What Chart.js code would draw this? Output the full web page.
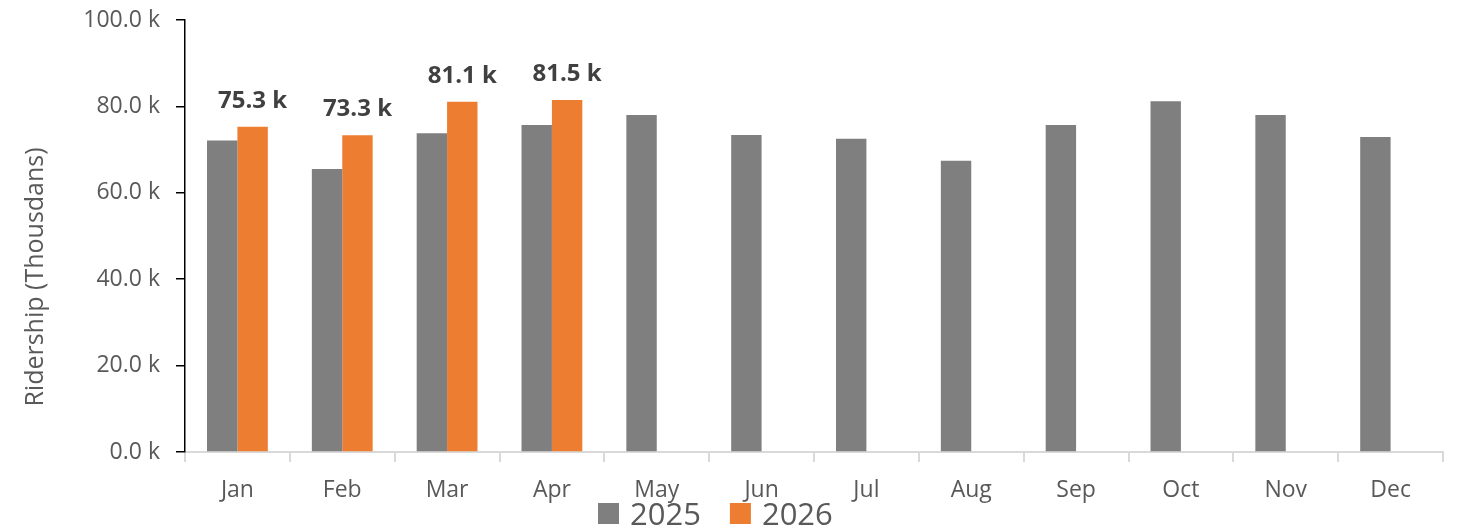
<!DOCTYPE html>
<html>
<head>
<meta charset="utf-8">
<script src="https://cdn.jsdelivr.net/npm/chart.js@4.4.1/dist/chart.umd.min.js"></script>
<style>
  html, body { margin: 0; padding: 0; background: #ffffff; }
  #wrap { width: 1483px; height: 528px; }
</style>
</head>
<body>
<div id="wrap"><canvas id="ridership" width="1483" height="528"></canvas></div>
<script>
// Monthly ridership in thousands
const months = ['Jan', 'Feb', 'Mar', 'Apr', 'May', 'Jun', 'Jul', 'Aug', 'Sep', 'Oct', 'Nov', 'Dec'];
const riders2025 = [72.1, 65.5, 73.8, 75.7, 78.0, 73.4, 72.5, 67.4, 75.7, 81.2, 78.0, 72.9];
const riders2026 = [75.3, 73.3, 81.1, 81.5, null, null, null, null, null, null, null, null];
const seriesNames = ['2025', '2026'];
const seriesColors = ['#7f7f7f', '#ed7d31'];
const yTitle = 'Ridership (Thousdans)';

const FONT = "'Open Sans', 'Noto Sans', sans-serif";
const TEXT_GREY = '#595959';

const fmtK = v => v.toFixed(1) + ' k';

// Bold value labels above the 2026 bars
const valueLabels = {
    id: 'valueLabels',
    afterDatasetsDraw(chart) {
        const ctx = chart.ctx;
        const meta = chart.getDatasetMeta(1);
        ctx.save();
        ctx.font = 'bold 24px ' + FONT;
        ctx.fillStyle = '#404040';
        ctx.textAlign = 'center';
        ctx.textBaseline = 'alphabetic';
        meta.data.forEach((bar, i) => {
            const v = chart.data.datasets[1].data[i];
            if (v == null) return;
            ctx.fillText(fmtK(v), bar.x, bar.y - 19);
        });
        ctx.restore();
    }
};

// Rotated y axis title, sitting a bit below the plot centre like the original
const axisTitle = {
    id: 'axisTitle',
    afterDraw(chart) {
        const ctx = chart.ctx;
        ctx.save();
        ctx.translate(36, 277);
        ctx.rotate(-Math.PI / 2);
        ctx.font = '25px ' + FONT;
        ctx.fillStyle = TEXT_GREY;
        ctx.textAlign = 'center';
        ctx.textBaseline = 'middle';
        ctx.fillText(yTitle, 0, 0);
        ctx.restore();
    }
};

// Legend under the month labels (overlapping them slightly, as in the source)
const bottomLegend = {
    id: 'bottomLegend',
    afterDraw(chart) {
        const ctx = chart.ctx;
        ctx.save();
        ctx.font = '31px ' + FONT;
        ctx.textBaseline = 'alphabetic';
        let x = 598;
        chart.data.datasets.forEach(ds => {
            ctx.fillStyle = ds.backgroundColor;
            ctx.fillRect(x, 503, 21, 21);
            x += 21 + 11;
            ctx.fillStyle = TEXT_GREY;
            ctx.fillText(ds.label, x, 525);
            x += ctx.measureText(ds.label).width + 29;
        });
        ctx.restore();
    }
};

new Chart(document.getElementById('ridership'), {
    type: 'bar',
    data: {
        labels: months,
        datasets: [
            { label: seriesNames[0], data: riders2025, backgroundColor: seriesColors[0] },
            { label: seriesNames[1], data: riders2026, backgroundColor: seriesColors[1] }
        ]
    },
    options: {
        responsive: false,
        animation: false,
        devicePixelRatio: 1,
        layout: { padding: { top: 20, right: 40, left: 0, bottom: 0 } },
        datasets: { bar: { categoryPercentage: 0.58, barPercentage: 1.0 } },
        plugins: {
            legend: { display: false },
            tooltip: { enabled: false }
        },
        scales: {
            x: {
                grid: {
                    display: true,
                    offset: true,
                    drawOnChartArea: false,
                    drawTicks: true,
                    tickLength: 10,
                    color: '#d9d9d9',
                    lineWidth: 2
                },
                border: { display: true, color: '#d9d9d9', width: 2 },
                ticks: {
                    color: TEXT_GREY,
                    font: { family: FONT, size: 23 },
                    padding: 15,
                    maxRotation: 0
                },
                afterFit(scale) { scale.height = 76; }
            },
            y: {
                min: 0,
                max: 100,
                ticks: {
                    stepSize: 20,
                    color: TEXT_GREY,
                    font: { family: FONT, size: 23 },
                    padding: 16,
                    callback: v => fmtK(v)
                },
                grid: {
                    display: true,
                    drawOnChartArea: false,
                    drawTicks: true,
                    tickLength: 9,
                    color: '#000000',
                    lineWidth: 1.5
                },
                border: { display: true, color: '#000000', width: 1.5 },
                afterFit(scale) {
                    scale.width = 185;
                    // top label has room in the layout padding already
                    scale.paddingTop = 0;
                    scale.paddingBottom = 0;
                }
            }
        }
    },
    plugins: [valueLabels, axisTitle, bottomLegend]
});
</script>
</body>
</html>
